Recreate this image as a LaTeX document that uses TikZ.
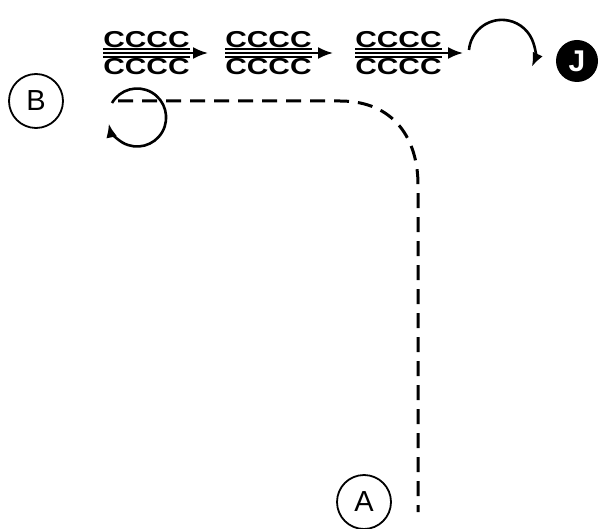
\documentclass[tikz,border=0pt]{standalone}
\usepackage{fontspec}
\setmainfont{Liberation Sans}
\usetikzlibrary{arrows.meta}
\begin{document}
\begin{tikzpicture}[x=1pt,y=-1pt,
  lbl/.style={circle,draw,line width=1.8pt,minimum size=54pt,inner sep=0pt,font=\fontsize{29}{29}\selectfont},
  cc/.style={font=\bfseries\fontsize{23}{23}\selectfont,xscale=1.3,inner sep=0pt,anchor=west},
  bar/.style={line width=2.2pt},
  pass/.style={line width=2.2pt,-{Latex[length=15pt,width=12pt]}},
  turn/.style={line width=2.6pt,-{Latex[length=14pt,width=11pt]}},
  dashline/.style={line width=3pt,dash pattern=on 15pt off 9pt}]
\useasboundingbox (0,0) rectangle (599,529);
% labels
\node[lbl] (B) at (36,101) {B};
\node[lbl] (A) at (364,502) {A};
\node[circle,fill=black,minimum size=42pt,inner sep=0pt,text=white,font=\bfseries\fontsize{30}{30}\selectfont] (J) at (577,61) {J};
% CCCC groups
\foreach \i/\x/\tip in {1/103/208, 2/225/333, 3/355/463}{
  \node[cc] (t\i) at (\x,40) {CCCC};
  \node[cc] (b\i) at (\x,67) {CCCC};
  \draw[bar] (\x,49) -- (\x+87,49);
  \draw[bar] (\x,57) -- (\x+87,57);
  \coordinate (s\i) at (\x,53);
  \coordinate (e\i) at (\tip,53);
  \draw[pass] (s\i) -- (e\i);
}
% turn arrow towards J
\coordinate (ts) at (469,50);
\draw[turn] (ts) arc[start angle=-175, end angle=25, radius=33];
% loop near B
\coordinate (ls) at (112,103);
\draw[turn] (ls) arc[start angle=-150, end angle=168, radius=29];
% dashed path
\coordinate (dS) at (118,101);
\coordinate (dE) at (418,512);
\draw[dashline] (dS) -- (340,101) .. controls (395,101) and (418,140) .. (418,185) -- (dE);
\end{tikzpicture}
\end{document}
